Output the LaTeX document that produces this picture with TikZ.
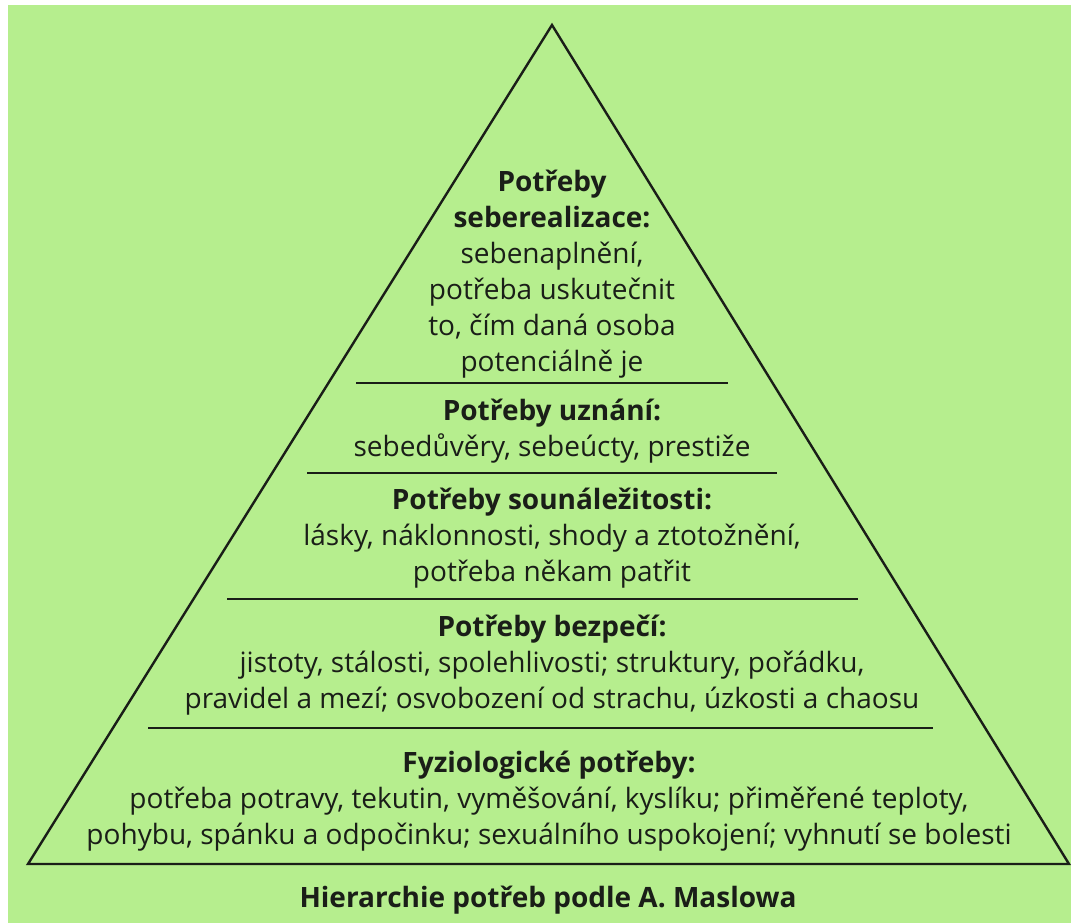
\documentclass[tikz,border=0pt]{standalone}
\usepackage{fontspec}
\setmainfont{Open Sans}
\definecolor{paper}{RGB}{182,238,142}
\definecolor{ink}{RGB}{26,30,24}
\begin{document}
\begin{tikzpicture}[x=1pt,y=-1pt]
		\tikzstyle{every node}+=[inner sep=0pt,text=ink,align=center,font=\fontsize{28}{36}\selectfont]
		\tikzstyle{divider}=[ink,line width=2pt]
		\tikzstyle{head}=[font=\fontsize{28}{36}\selectfont\bfseries]
		\useasboundingbox (0,0) rectangle (1071,923);
		\fill [white] (0,0) rectangle (1071,923);
		\fill [paper] (8,5) rectangle (1071,923);
		% pyramid
		\coordinate (top) at (552,25);
		\coordinate (left) at (28,864);
		\coordinate (right) at (1069,864);
		\draw [ink,line width=2.4pt,line join=miter] (left) -- (top) -- (right) -- cycle;
		% dividers
		\draw [divider] (356,383) -- (728,383);
		\draw [divider] (307,473) -- (777,473);
		\draw [divider] (227,599) -- (858,599);
		\draw [divider] (148,728) -- (933,728);
		% levels
		\node (self) at (552,274) {\textbf{Potřeby}\\ \textbf{seberealizace:}\\ sebenaplnění,\\ potřeba uskutečnit\\ to, čím daná osoba\\ potenciálně je};
		\node (esteem) at (552,431) {\textbf{Potřeby uznání:}\\ sebedůvěry, sebeúcty, prestiže};
		\node (love) at (552,538) {\textbf{Potřeby sounáležitosti:}\\ lásky, náklonnosti, shody a ztotožnění,\\ potřeba někam patřit};
		\node (safety) at (552,665) {\textbf{Potřeby bezpečí:}\\ jistoty, stálosti, spolehlivosti; struktury, pořádku,\\ pravidel a mezí; osvobození od strachu, úzkosti a chaosu};
		\node (body) at (549,801) {\textbf{Fyziologické potřeby:}\\ potřeba potravy, tekutin, vyměšování, kyslíku; přiměřené teploty,\\ pohybu, spánku a odpočinku; sexuálního uspokojení; vyhnutí se bolesti};
		\node [head] (caption) at (548,900) {Hierarchie potřeb podle A. Maslowa};
\end{tikzpicture}
\end{document}
